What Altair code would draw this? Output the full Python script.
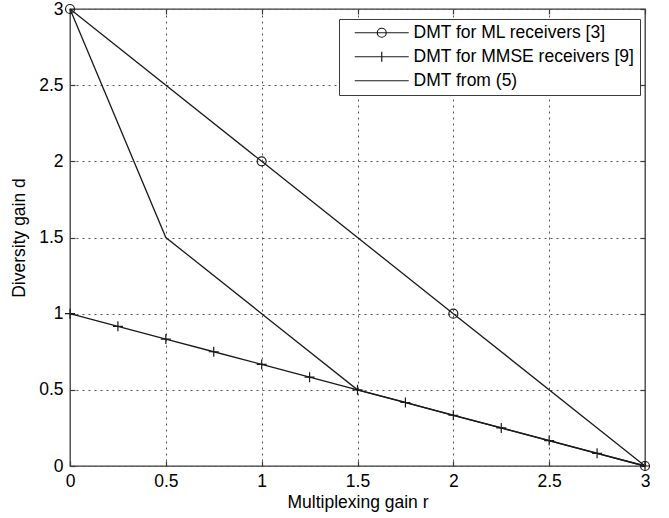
import altair as alt
import pandas as pd

# ---- data ----
ml_r = [0, 1, 2, 3]
ml_d = [3, 2, 1, 0]
mmse_r = [0, 0.25, 0.5, 0.75, 1, 1.25, 1.5, 1.75, 2, 2.25, 2.5, 2.75, 3]
mmse_d = [1, 0.917, 0.833, 0.75, 0.667, 0.583, 0.5, 0.417, 0.333, 0.25, 0.167, 0.083, 0]
dmt5_r = [0, 0.5, 1, 1.5, 3]
dmt5_d = [3, 1.5, 1, 0.5, 0]
series_names = ["DMT for ML receivers [3]", "DMT for MMSE receivers [9]", "DMT from (5)"]
tick_values = [0, 0.5, 1, 1.5, 2, 2.5, 3]

ml = pd.DataFrame({"r": ml_r, "d": ml_d})
mmse = pd.DataFrame({"r": mmse_r, "d": mmse_d})
dmt5 = pd.DataFrame({"r": dmt5_r, "d": dmt5_d})
leg = pd.DataFrame({"series": series_names})

FONT = "Liberation Sans"
INK = "#1a1a1a"
FRAME = "#3a3a3a"
FS = 17.5

xs = alt.Scale(domain=[0, 3], nice=False, zero=False)
ys = alt.Scale(domain=[0, 3], nice=False, zero=False)

common = dict(values=tick_values, tickSize=5, tickColor=FRAME, tickWidth=1.2,
              domain=False, offset=-5, labelFlush=False, labelOverlap=False)

x_main = alt.Axis(orient="bottom", format=".1~f", grid=True, gridDash=[2, 4],
                  gridColor="#555", gridWidth=1, labelPadding=6, labelFont=FONT,
                  labelFontSize=FS, labelColor="#000", title="Multiplexing gain r",
                  titleFont=FONT, titleFontSize=FS, titleFontWeight="normal",
                  titleColor="#000", titlePadding=4, **common)
y_main = alt.Axis(orient="left", format=".1~f", grid=True, gridDash=[2, 4],
                  gridColor="#555", gridWidth=1, labelPadding=7, labelFont=FONT,
                  labelFontSize=FS, labelColor="#000", title="Diversity gain d",
                  titleFont=FONT, titleFontSize=FS, titleFontWeight="normal",
                  titleColor="#000", titlePadding=10, **common)
x_top = alt.Axis(orient="top", labels=False, grid=False, title=None, **common)
y_right = alt.Axis(orient="right", labels=False, grid=False, title=None, **common)

line_kw = dict(color=INK, strokeWidth=1.3)

ml_line = alt.Chart(ml).mark_line(**line_kw).encode(
    x=alt.X("r:Q", scale=xs, axis=x_main),
    y=alt.Y("d:Q", scale=ys, axis=y_main),
)
mmse_line = alt.Chart(mmse).mark_line(**line_kw).encode(
    x=alt.X("r:Q", scale=xs, axis=x_top),
    y=alt.Y("d:Q", scale=ys, axis=y_right),
)
dmt5_line = alt.Chart(dmt5).mark_line(**line_kw).encode(
    x=alt.X("r:Q", scale=xs, axis=None),
    y=alt.Y("d:Q", scale=ys, axis=None),
)
ml_pts = alt.Chart(ml).mark_point(shape="circle", size=81, filled=False,
                                  color=INK, strokeWidth=1.2, opacity=1).encode(
    x=alt.X("r:Q", scale=xs, axis=None),
    y=alt.Y("d:Q", scale=ys, axis=None),
)
mmse_pts = alt.Chart(mmse).mark_point(shape="M-1,0H1M0,-1V1", size=100, filled=False,
                                      color=INK, strokeWidth=1.2, opacity=1).encode(
    x=alt.X("r:Q", scale=xs, axis=None),
    y=alt.Y("d:Q", scale=ys, axis=None),
)

# legend symbols: line with marker, in path units (r = 7 px)
p_ml = ("M-3.857,0H3.857M0.643,0A0.643,0.643 0 1,1 -0.643,0"
        "A0.643,0.643 0 1,1 0.643,0")
p_mmse = "M-3.857,0H3.857M0,-0.714V0.714"
p_dmt = "M-3.857,0H3.857"

legend_layer = alt.Chart(leg).mark_point(filled=False, color=INK, strokeWidth=1.2,
                                         opacity=1).encode(
    shape=alt.Shape("series:N",
                    scale=alt.Scale(domain=series_names, range=[p_ml, p_mmse, p_dmt]),
                    legend=alt.Legend(orient="none", legendX=269, legendY=10,
                                      title=None, fillColor="white",
                                      strokeColor=FRAME, padding=5, rowPadding=5,
                                      labelFont=FONT, labelFontSize=FS,
                                      labelColor="#000", symbolSize=196,
                                      symbolStrokeWidth=1.2, symbolOffset=29,
                                      labelOffset=23, labelLimit=400)),
).transform_filter("false")

chart = alt.layer(ml_line, mmse_line, dmt5_line, ml_pts, mmse_pts, legend_layer).resolve_axis(
    x="independent", y="independent"
).properties(
    width=575, height=457,
    autosize=alt.AutoSizeParams(type="none"),
    padding={"left": 70, "top": 9, "right": 24, "bottom": 52},
    background="white",
).configure_view(stroke=FRAME, strokeWidth=1.3)

chart.save("out.html", embed_options={"renderer": "svg", "actions": False})
